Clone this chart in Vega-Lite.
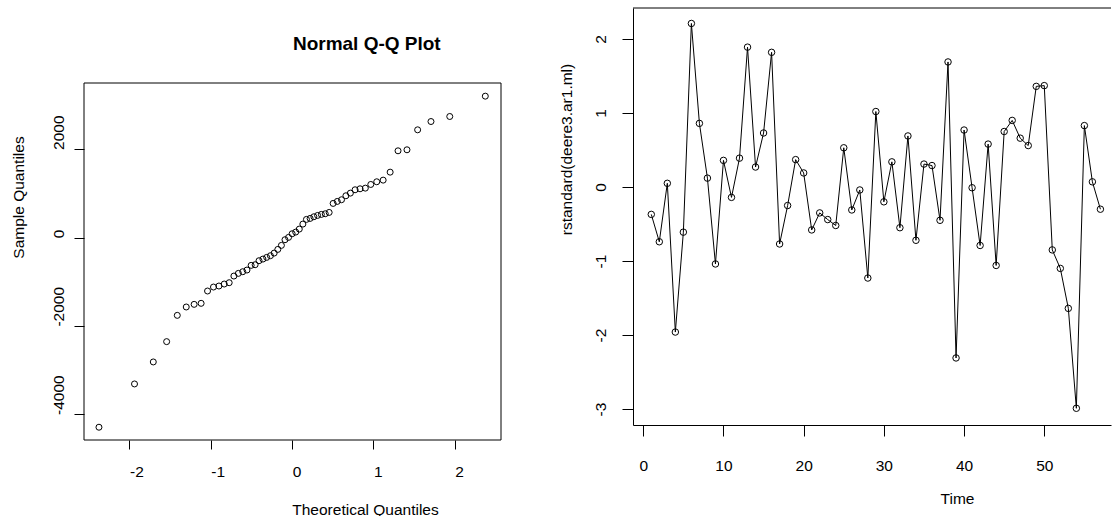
{
  "$schema": "https://vega.github.io/schema/vega-lite/v6.json",
  "padding": {"left": 11, "top": 7, "right": 0, "bottom": 0},
  "spacing": 57,
  "background": "white",
  "config": {
    "view": {"stroke": null},
    "font": "Liberation Sans",
    "axis": {
      "grid": false,
      "labelColor": "black",
      "labelFontSize": 15.5,
      "labelFont": "Liberation Sans",
      "titleColor": "black",
      "titleFontSize": 15.5,
      "titleFont": "Liberation Sans",
      "titleFontWeight": "normal",
      "tickColor": "black",
      "tickWidth": 1,
      "domainColor": "black",
      "domainWidth": 1,
      "labelOverlap": false,
      "labelFlush": false,
      "labelExpr": "'' + datum.value"
    }
  },
  "datasets": {
    "qq": [
      {"theo": -2.375, "samp": -4290}, {"theo": -1.938, "samp": -3310}, {"theo": -1.707, "samp": -2812},
      {"theo": -1.543, "samp": -2352}, {"theo": -1.412, "samp": -1757}, {"theo": -1.302, "samp": -1568},
      {"theo": -1.205, "samp": -1508}, {"theo": -1.119, "samp": -1485}, {"theo": -1.040, "samp": -1206},
      {"theo": -0.967, "samp": -1116}, {"theo": -0.900, "samp": -1093}, {"theo": -0.835, "samp": -1048},
      {"theo": -0.774, "samp": -1018}, {"theo": -0.716, "samp": -867}, {"theo": -0.661, "samp": -807},
      {"theo": -0.607, "samp": -769}, {"theo": -0.555, "samp": -731}, {"theo": -0.504, "samp": -626},
      {"theo": -0.455, "samp": -611}, {"theo": -0.407, "samp": -520}, {"theo": -0.359, "samp": -483},
      {"theo": -0.313, "samp": -445}, {"theo": -0.267, "samp": -407}, {"theo": -0.221, "samp": -347},
      {"theo": -0.176, "samp": -264}, {"theo": -0.132, "samp": -173}, {"theo": -0.088, "samp": -45},
      {"theo": -0.044, "samp": 8}, {"theo": 0.0, "samp": 90}, {"theo": 0.044, "samp": 128},
      {"theo": 0.088, "samp": 196}, {"theo": 0.132, "samp": 309}, {"theo": 0.176, "samp": 415},
      {"theo": 0.221, "samp": 437}, {"theo": 0.267, "samp": 475}, {"theo": 0.313, "samp": 505},
      {"theo": 0.359, "samp": 528}, {"theo": 0.407, "samp": 543}, {"theo": 0.455, "samp": 573},
      {"theo": 0.504, "samp": 777}, {"theo": 0.555, "samp": 822}, {"theo": 0.607, "samp": 860},
      {"theo": 0.661, "samp": 950}, {"theo": 0.716, "samp": 1010}, {"theo": 0.774, "samp": 1086},
      {"theo": 0.835, "samp": 1108}, {"theo": 0.900, "samp": 1123}, {"theo": 0.967, "samp": 1206},
      {"theo": 1.040, "samp": 1267}, {"theo": 1.119, "samp": 1304}, {"theo": 1.205, "samp": 1485},
      {"theo": 1.302, "samp": 1968}, {"theo": 1.412, "samp": 1991}, {"theo": 1.543, "samp": 2443},
      {"theo": 1.707, "samp": 2631}, {"theo": 1.938, "samp": 2745}, {"theo": 2.375, "samp": 3205}
    ],
    "ts": [
      {"t": 1, "r": -0.37}, {"t": 2, "r": -0.74}, {"t": 3, "r": 0.05}, {"t": 4, "r": -1.96},
      {"t": 5, "r": -0.61}, {"t": 6, "r": 2.21}, {"t": 7, "r": 0.86}, {"t": 8, "r": 0.12},
      {"t": 9, "r": -1.04}, {"t": 10, "r": 0.36}, {"t": 11, "r": -0.14}, {"t": 12, "r": 0.39},
      {"t": 13, "r": 1.89}, {"t": 14, "r": 0.27}, {"t": 15, "r": 0.73}, {"t": 16, "r": 1.82},
      {"t": 17, "r": -0.77}, {"t": 18, "r": -0.25}, {"t": 19, "r": 0.37}, {"t": 20, "r": 0.19},
      {"t": 21, "r": -0.58}, {"t": 22, "r": -0.35}, {"t": 23, "r": -0.44}, {"t": 24, "r": -0.52},
      {"t": 25, "r": 0.53}, {"t": 26, "r": -0.31}, {"t": 27, "r": -0.04}, {"t": 28, "r": -1.23},
      {"t": 29, "r": 1.02}, {"t": 30, "r": -0.20}, {"t": 31, "r": 0.34}, {"t": 32, "r": -0.55},
      {"t": 33, "r": 0.69}, {"t": 34, "r": -0.72}, {"t": 35, "r": 0.31}, {"t": 36, "r": 0.29},
      {"t": 37, "r": -0.45}, {"t": 38, "r": 1.69}, {"t": 39, "r": -2.31}, {"t": 40, "r": 0.77},
      {"t": 41, "r": -0.01}, {"t": 42, "r": -0.79}, {"t": 43, "r": 0.58}, {"t": 44, "r": -1.06},
      {"t": 45, "r": 0.75}, {"t": 46, "r": 0.90}, {"t": 47, "r": 0.66}, {"t": 48, "r": 0.56},
      {"t": 49, "r": 1.36}, {"t": 50, "r": 1.37}, {"t": 51, "r": -0.85}, {"t": 52, "r": -1.10},
      {"t": 53, "r": -1.64}, {"t": 54, "r": -2.99}, {"t": 55, "r": 0.83}, {"t": 56, "r": 0.07},
      {"t": 57, "r": -0.30}
    ]
  },
  "hconcat": [
    {
      "width": 417,
      "height": 432,
      "layer": [
        {
          "data": {"values": [{}]},
          "mark": {"type": "rect", "fillOpacity": 0, "stroke": "black", "strokeWidth": 1},
          "encoding": {
            "x": {"datum": -2.559, "type": "quantitative", "scale": {"domain": [-2.559, 2.568], "nice": false, "zero": false}},
            "x2": {"datum": 2.568},
            "y": {"datum": -4579, "type": "quantitative", "scale": {"domain": [-4579, 5201], "nice": false, "zero": false}},
            "y2": {"datum": 3503}
          }
        },
        {
          "data": {"name": "qq"},
          "mark": {"type": "point", "shape": "circle", "filled": false, "stroke": "black", "strokeWidth": 1, "size": 36, "opacity": 1},
          "encoding": {
            "x": {
              "field": "theo", "type": "quantitative",
              "scale": {"domain": [-2.559, 2.568], "nice": false, "zero": false},
              "axis": {"values": [-2, -1, 0, 1, 2], "domain": false, "tickSize": 9, "labelPadding": 22, "labelBaseline": "middle", "labelAlign": "left", "labelDx": -1, "title": "Theoretical Quantiles", "titleX": 281, "titleY": 69, "titleBaseline": "middle", "titleAlign": "center"}
            },
            "y": {
              "field": "samp", "type": "quantitative",
              "scale": {"domain": [-4579, 5201], "nice": false, "zero": false},
              "axis": {"values": [-4000, -2000, 0, 2000], "domain": false, "tickSize": 10, "labelAngle": -90, "labelAlign": "left", "labelBaseline": "middle", "labelPadding": 16, "title": "Sample Quantiles", "titleX": -66, "titleY": 189, "titleBaseline": "middle", "titleAlign": "center", "titleAngle": -90}
            }
          }
        },
        {
          "data": {"values": [{}]},
          "mark": {"type": "text", "text": "Normal Q-Q Plot", "fontWeight": "bold", "fontSize": 19, "baseline": "middle", "align": "center", "font": "Liberation Sans", "color": "black"},
          "encoding": {
            "x": {"datum": 0.918, "type": "quantitative"},
            "y": {"datum": 4386, "type": "quantitative"}
          }
        }
      ]
    },
    {
      "width": 478,
      "height": 417,
      "layer": [
        {
          "data": {"name": "ts"},
          "mark": {"type": "line", "color": "black", "strokeWidth": 1},
          "encoding": {
            "x": {
              "field": "t", "type": "quantitative",
              "scale": {"domain": [-1.28, 58.32], "nice": false, "zero": false},
              "axis": {"values": [0, 10, 20, 30, 40, 50], "domain": true, "tickSize": 11, "labelPadding": 29, "labelBaseline": "middle", "labelAlign": "center", "labelDx": 2, "title": "Time", "titleX": 324, "titleY": 73, "titleBaseline": "middle", "titleAlign": "center"}
            },
            "y": {
              "field": "r", "type": "quantitative",
              "scale": {"domain": [-3.216, 2.419], "nice": false, "zero": false},
              "axis": {"values": [-3, -2, -1, 0, 1, 2], "domain": true, "tickSize": 11, "labelAngle": -90, "labelAlign": "center", "labelBaseline": "middle", "labelPadding": 22, "title": "rstandard(deere3.ar1.ml)", "titleX": -67, "titleY": 141, "titleBaseline": "middle", "titleAlign": "center", "titleAngle": -90}
            }
          }
        },
        {
          "data": {"name": "ts"},
          "mark": {"type": "point", "shape": "circle", "filled": false, "stroke": "black", "strokeWidth": 1, "size": 42, "opacity": 1},
          "encoding": {
            "x": {"field": "t", "type": "quantitative", "scale": {"domain": [-1.28, 58.32], "nice": false, "zero": false}},
            "y": {"field": "r", "type": "quantitative", "scale": {"domain": [-3.216, 2.419], "nice": false, "zero": false}}
          }
        },
        {
          "data": {"values": [{}]},
          "mark": {"type": "rule", "color": "black", "strokeWidth": 1},
          "encoding": {
            "y": {"datum": 2.419, "type": "quantitative"}
          }
        }
      ]
    }
  ]
}
